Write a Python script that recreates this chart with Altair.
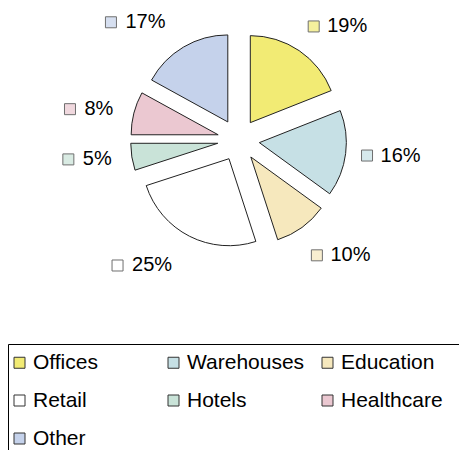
import altair as alt
import pandas as pd

categories = ["Offices", "Warehouses", "Education", "Retail", "Hotels", "Healthcare", "Other"]
values = [19, 16, 10, 25, 5, 8, 17]
colors = ["#F2EB74", "#C6E0E5", "#F6E8BD", "#FFFFFF", "#C9E3D8", "#EBC8D1", "#C5D2EB"]

df = pd.DataFrame({"category": categories, "value": values, "order": list(range(len(categories)))})

CX, CY = 230.5, 132.0
EXPLODE = 21
RADIUS = 87
LABEL_R = 124
FONT = "Liberation Sans"

fill_scale = alt.Scale(domain=categories, range=colors)

base = (
    alt.Chart(df)
    .transform_window(cum="sum(value)", sort=[alt.SortField("order")], frame=[None, 0])
    .transform_joinaggregate(total="sum(value)")
    .transform_calculate(
        start="(datum.cum - datum.value) / datum.total * 2 * PI",
        end="datum.cum / datum.total * 2 * PI",
    )
    .transform_calculate(mid="(datum.start + datum.end) / 2")
    .transform_calculate(
        cx=f"{CX} + {EXPLODE} * sin(datum.mid)",
        cy=f"{CY} - {EXPLODE} * cos(datum.mid)",
        side="sin(datum.mid) >= 0 ? 1 : -1",
        label="datum.value + '%'",
    )
    .transform_calculate(
        lx=f"{CX} + {LABEL_R} * sin(datum.mid) - (datum.side < 0 ? 3 + 8 * abs(cos(datum.mid)) : 0)",
        ly0=f"{CY} - {LABEL_R} * cos(datum.mid)",
    )
    .transform_calculate(
        ly="cos(datum.mid) > 0.5 ? datum.ly0 - 11 : (cos(datum.mid) < -0.5 ? datum.ly0 + 15 : datum.ly0)",
        tw="11.12 * (length(datum.label) - 1) + 17.8",
    )
    .transform_calculate(
        sx="datum.side > 0 ? datum.lx + 5.5 : datum.lx - datum.tw - 9 - 5.5",
        tx="datum.side > 0 ? datum.lx + 19 : datum.lx",
    )
)

pie = base.mark_arc(radius=RADIUS, stroke="#222222", strokeWidth=1).encode(
    theta=alt.Theta("start:Q", scale=None),
    theta2="end:Q",
    x=alt.X("cx:Q", scale=None, axis=None),
    y=alt.Y("cy:Q", scale=None, axis=None),
    fill=alt.Fill(
        "category:N",
        scale=fill_scale,
        legend=alt.Legend(
            title=" ",
            titleOrient="right",
            titlePadding=30,
            orient="none",
            direction="horizontal",
            legendX=0,
            legendY=336,
            columns=3,
            gridAlign="all",
            symbolType="square",
            symbolSize=121,
            symbolStrokeColor="#333333",
            symbolStrokeWidth=1,
            symbolOffset=-7,
            labelFont=FONT,
            labelFontSize=21,
            labelColor="#000000",
            labelOffset=3,
            labelLimit=300,
            rowPadding=16,
            columnPadding=15,
            padding=8,
            strokeColor="#000000",
        ),
    ),
    order=alt.Order("order:Q"),
)

squares = base.mark_square(size=121, filled=True, stroke="#333333", strokeWidth=1).encode(
    x=alt.X("sx:Q", scale=None, axis=None),
    y=alt.Y("ly:Q", scale=None, axis=None),
    fill=alt.Fill("category:N", scale=fill_scale, legend=None),
)

text_right = base.transform_filter("datum.side > 0").mark_text(
    align="left", baseline="middle", font=FONT, fontSize=20, color="#000000"
).encode(
    x=alt.X("tx:Q", scale=None, axis=None),
    y=alt.Y("ly:Q", scale=None, axis=None),
    text="label:N",
)

text_left = base.transform_filter("datum.side < 0").mark_text(
    align="right", baseline="middle", font=FONT, fontSize=20, color="#000000"
).encode(
    x=alt.X("tx:Q", scale=None, axis=None),
    y=alt.Y("ly:Q", scale=None, axis=None),
    text="label:N",
)

chart = (
    alt.layer(pie, squares, text_right, text_left)
    .properties(width=451, height=442, autosize=alt.AutoSizeParams(type="none"), padding=0)
    .configure_view(stroke=None)
)

chart.save("out.html", embed_options={"renderer": "svg", "actions": False})
